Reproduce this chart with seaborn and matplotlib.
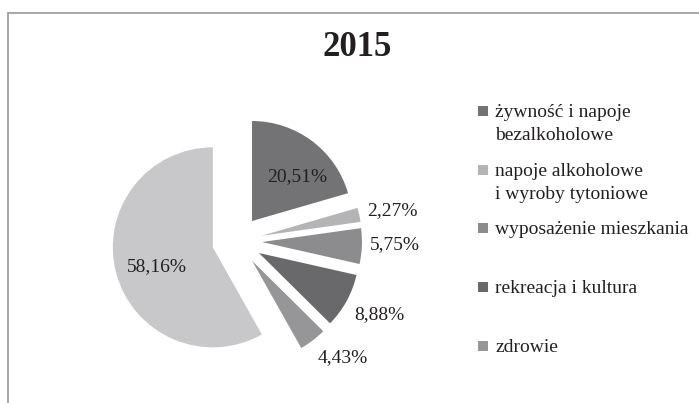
import matplotlib
matplotlib.use("Agg")
import matplotlib.pyplot as plt
import seaborn as sns
import numpy as np
from matplotlib.lines import Line2D
from matplotlib.patches import Rectangle

# ---- dane ----
categories = ["żywność i napoje\nbezalkoholowe",
              "napoje alkoholowe\ni wyroby tytoniowe",
              "wyposażenie mieszkania",
              "rekreacja i kultura",
              "zdrowie",
              "pozostałe"]
shares = [20.51, 2.27, 5.75, 8.88, 4.43, 58.16]
in_legend = [True, True, True, True, True, False]
title = "2015"

# ---- styl ----
colors = ["#737375", "#b4b4b6", "#8c8c8e", "#69696b", "#969698", "#c8c8ca"]
label_dist = [0.88, 1.58, 1.58, 1.60, 1.57, 0.84]   # od środka koła
label_nudge = [-6.3, -0.8, 0.9, 1.2, 4.8, 3.3]      # stopnie
txt_color = "#231f20"

sns.set_theme(style="white")
plt.rcParams['font.family'] = ['Liberation Serif', 'DejaVu Serif']

W, H = 699, 403
fig = plt.figure(figsize=(W / 100, H / 100), dpi=100)

# oś kwadratowa 300 px wokół środka koła (237, 241)
cx, cy, side = 237, 241, 300
ax = fig.add_axes([(cx - side / 2) / W, (H - cy - side / 2) / H, side / W, side / H])
wedges, _ = ax.pie(shares, colors=colors, explode=[0.25] * len(shares),
                   startangle=90, counterclock=False, radius=1,
                   wedgeprops=dict(linewidth=0))
ax.set_xlim(-1.5, 1.5)
ax.set_ylim(-1.5, 1.5)
ax.set_aspect('equal')
ax.axis('off')

# etykiety procentowe
for w, v, d, nd in zip(wedges, shares, label_dist, label_nudge):
    mid = np.deg2rad((w.theta1 + w.theta2) / 2 + nd)
    ax.text(d * np.cos(mid), d * np.sin(mid), f"{v:.2f}%".replace('.', ','),
            ha='center', va='center', fontsize=14, color=txt_color)

# tytuł
fig.text(357 / W, 1 - 48 / H, title, ha='center', va='center',
         fontsize=25, fontweight='bold', color=txt_color)

# legenda (ręcznie, jak w Excelu: równe sloty, kwadrat przy pierwszej linii)
box_x, text_x = 478, 495
base0, step, line_h = 117, 58.7, 23.5
for i, (name, col) in enumerate(zip(categories, colors)):
    if not in_legend[i]:
        continue
    yb = base0 + i * step
    fig.add_artist(Rectangle((box_x / W, 1 - (yb - 1) / H), 10 / W, 10 / H,
                             transform=fig.transFigure, color=col, lw=0))
    for k, line in enumerate(name.split("\n")):
        fig.text(text_x / W, 1 - (yb + k * line_h) / H, line, fontsize=14,
                 va='baseline', ha='left', color=txt_color)

# ramka wykresu (przycięta)
fx, fy = 7.5 / W, 1 - 13 / H
fig.add_artist(Line2D([fx, 1], [fy, fy], transform=fig.transFigure,
                      color='#a0a0a0', lw=1.3))
fig.add_artist(Line2D([fx, fx], [0, fy], transform=fig.transFigure,
                      color='#a0a0a0', lw=1.3))

fig.savefig("out.png", dpi=100)
